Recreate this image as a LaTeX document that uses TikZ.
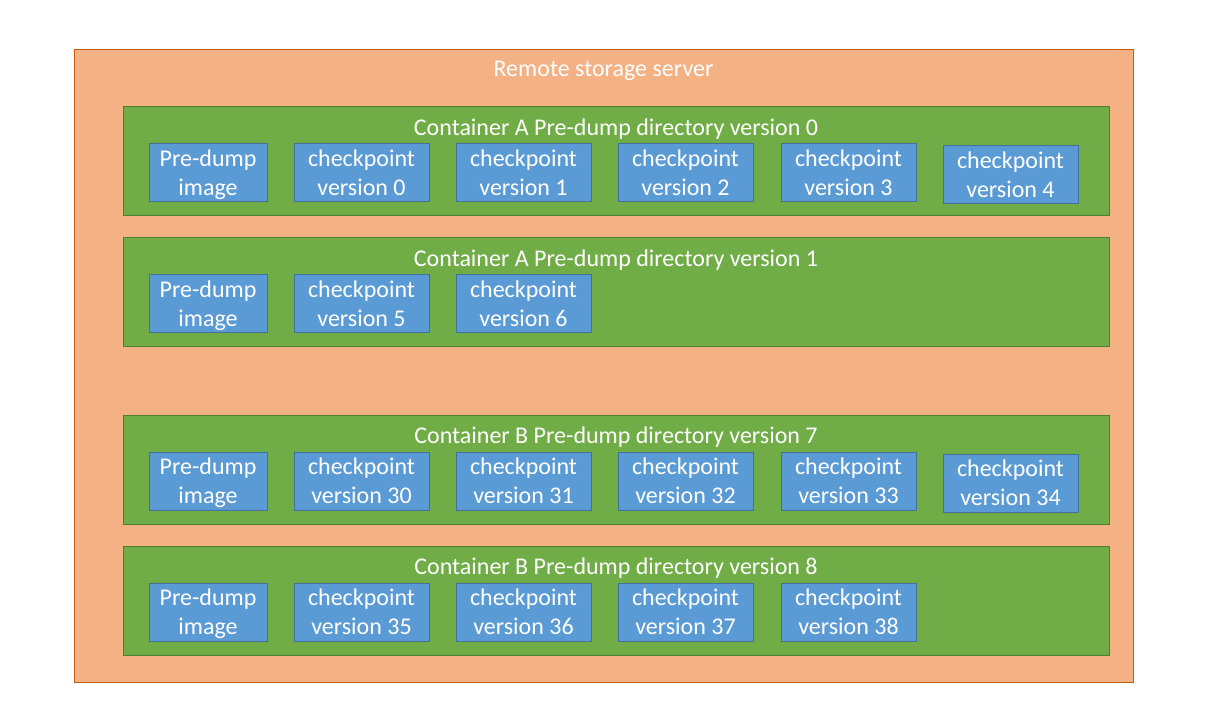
\documentclass[tikz,border=0pt]{standalone}
\usepackage{fontspec}
\setmainfont{Carlito}
\definecolor{outerfill}{HTML}{F4B183}
\definecolor{outerdraw}{HTML}{C55A11}
\definecolor{rowfill}{HTML}{70AD47}
\definecolor{rowdraw}{HTML}{507E32}
\definecolor{itemfill}{HTML}{5B9BD5}
\definecolor{itemdraw}{HTML}{41719C}
\newcommand{\twoline}[2]{\raisebox{-2pt}[\height][\depth]{\begin{tabular}{@{}c@{}}#1\\#2\end{tabular}}}
\begin{document}
\begin{tikzpicture}[x=1pt,y=-1pt,
  outerbox/.style={draw=outerdraw,fill=outerfill,line width=1pt},
  rowbox/.style={draw=rowdraw,fill=rowfill,line width=1pt},
  itembox/.style={draw=itemdraw,fill=itemfill,line width=1pt,inner sep=0pt,
    minimum height=58pt,align=center,text=white,font=\fontsize{24}{29}\selectfont},
  pd/.style={itembox,minimum width=118pt},
  ck/.style={itembox,minimum width=135pt},
  lbl/.style={text=white,font=\fontsize{24}{29}\selectfont,inner sep=0pt}]
\useasboundingbox (0,0) rectangle (1221,727);
\draw[outerbox] (74,50) rectangle (1133,682);
\node[lbl] (server) at (603.5,71) {Remote storage server};
% rows
\draw[rowbox] (123,107) rectangle (1109,216);
\node[lbl] (t1) at (616,129) {Container A Pre-dump directory version 0};
\draw[rowbox] (123,238) rectangle (1109,347);
\node[lbl] (t2) at (616,260) {Container A Pre-dump directory version 1};
\draw[rowbox] (123,415) rectangle (1109,524);
\node[lbl] (t3) at (616,437) {Container B Pre-dump directory version 7};
\draw[rowbox] (123,546) rectangle (1109,655);
\node[lbl] (t4) at (616,568) {Container B Pre-dump directory version 8};
% row 1
\node[pd] (a0p) at (208,173) {\twoline{Pre-dump}{image}};
\node[ck] (a0c0) at (361.5,173) {\twoline{checkpoint}{version 0}};
\node[ck] (a0c1) at (523.5,173) {\twoline{checkpoint}{version 1}};
\node[ck] (a0c2) at (685.5,173) {\twoline{checkpoint}{version 2}};
\node[ck] (a0c3) at (848.5,173) {\twoline{checkpoint}{version 3}};
\node[ck] (a0c4) at (1010.5,175) {\twoline{checkpoint}{version 4}};
% row 2
\node[pd] (a1p) at (208,304) {\twoline{Pre-dump}{image}};
\node[ck] (a1c5) at (361.5,304) {\twoline{checkpoint}{version 5}};
\node[ck] (a1c6) at (523.5,304) {\twoline{checkpoint}{version 6}};
% row 3
\node[pd] (b7p) at (208,481) {\twoline{Pre-dump}{image}};
\node[ck] (b7c30) at (361.5,481) {\twoline{checkpoint}{version 30}};
\node[ck] (b7c31) at (523.5,481) {\twoline{checkpoint}{version 31}};
\node[ck] (b7c32) at (685.5,481) {\twoline{checkpoint}{version 32}};
\node[ck] (b7c33) at (848.5,481) {\twoline{checkpoint}{version 33}};
\node[ck] (b7c34) at (1010.5,483) {\twoline{checkpoint}{version 34}};
% row 4
\node[pd] (b8p) at (208,612) {\twoline{Pre-dump}{image}};
\node[ck] (b8c35) at (361.5,612) {\twoline{checkpoint}{version 35}};
\node[ck] (b8c36) at (523.5,612) {\twoline{checkpoint}{version 36}};
\node[ck] (b8c37) at (685.5,612) {\twoline{checkpoint}{version 37}};
\node[ck] (b8c38) at (848.5,612) {\twoline{checkpoint}{version 38}};
\end{tikzpicture}
\end{document}
